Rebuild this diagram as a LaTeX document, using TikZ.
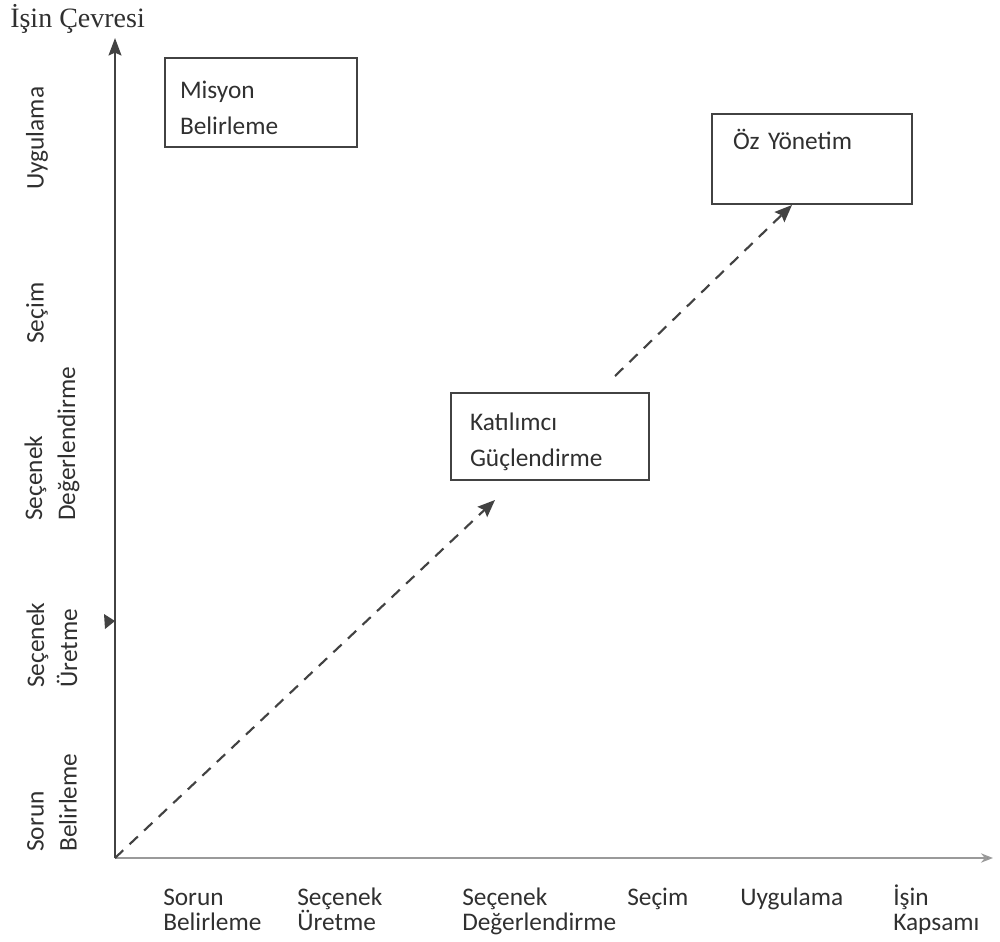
\documentclass[tikz,border=0pt]{standalone}
\usepackage{fontspec}
\setmainfont{Carlito}
\newfontfamily\titlefont{Liberation Serif}
\usetikzlibrary{arrows.meta}
\def\pxu{0.75pt}
\definecolor{ink}{HTML}{303030}
\definecolor{rulec}{HTML}{424242}
\definecolor{faint}{HTML}{9A9A9A}
\newcommand\lblfont{\fontsize{19}{18.75}\selectfont}
\newcommand\vlblfont{\fontsize{19}{24.75}\selectfont}
\newcommand\boxfont{\fontsize{19}{27}\selectfont}
% raises the first line of a box so that the text block sits a little lower
\newcommand\toprule{\rule{0pt}{21.5pt}}
\begin{document}
\begin{tikzpicture}[x=0.75pt,y=-0.75pt,
  box/.style={draw=rulec, line width=1.5pt, align=left, font=\boxfont,
    text=ink, inner ysep=0pt},
  axisline/.style={draw=rulec, line width=1.9pt,
    -{Stealth[length=13pt, width=9.5pt, inset=2pt]}},
  haxisline/.style={draw=faint, line width=1.3pt,
    -{Stealth[length=9pt, width=7pt, fill=rulec]}},
  dasharrow/.style={draw=rulec, line width=1.6pt, dash pattern=on 8.5pt off 6.5pt,
    -{Stealth[length=13pt, width=10.5pt, inset=2pt]}},
  hlabel/.style={anchor=base west, align=left, font=\lblfont, text=ink, inner sep=0pt},
  vlabel/.style={anchor=west, align=left, rotate=90, font=\vlblfont, text=ink, inner sep=0pt},
]
\useasboundingbox (0,0) rectangle (1000,942);

% title of the vertical axis
\node[anchor=base west, inner sep=0pt, font=\titlefont\fontsize{21}{24}\selectfont, text=ink]
  (ttl) at (10,28) {İşin Çevresi};

% axes
\coordinate (o) at (115,858);
\coordinate (ytop) at (115,38);
\coordinate (xend) at (993,858);
\draw[axisline] (o) -- (ytop);
\draw[haxisline] (o) -- (xend);

% small marker on the vertical axis
\fill[rulec] (115,621) -- (104,614) -- (105,629) -- cycle;

% boxes
\node[box, minimum width=192*\pxu, minimum height=89*\pxu, text width=162*\pxu,
  inner xsep=15*\pxu] (mis) at (261,102.5) {\toprule Misyon\\Belirleme};
\node[box, minimum width=200*\pxu, minimum height=90*\pxu, text width=158*\pxu,
  inner xsep=21*\pxu] (oz) at (812,159) {\toprule Öz Yönetim\\\strut};
\node[box, minimum width=198*\pxu, minimum height=87*\pxu, text width=160*\pxu,
  inner xsep=19*\pxu] (kat) at (550,436.5) {\toprule Katılımcı\\Güçlendirme};

% dashed progression arrows
\coordinate (d1e) at (495,500);
\coordinate (d2s) at (615,376);
\coordinate (d2e) at (792,205);
\draw[dasharrow] (o) -- (d1e);
\draw[dasharrow] (d2s) -- (d2e);

% labels of the horizontal axis
\node[hlabel] (h1) at (163,930) {Sorun\\Belirleme};
\node[hlabel] (h2) at (297,930) {Seçenek\\Üretme};
\node[hlabel] (h3) at (462,930) {Seçenek\\Değerlendirme};
\node[hlabel] (h4) at (627,905) {Seçim};
\node[hlabel] (h5) at (740,905) {Uygulama};
\node[hlabel] (h6) at (893,930) {İşin\\Kapsamı};

% labels of the vertical axis
\node[vlabel] (v1) at (52,852) {Sorun\\Belirleme};
\node[vlabel] (v2) at (52,688) {Seçenek\\Üretme};
\node[vlabel] (v3) at (52,521) {Seçenek\\Değerlendirme};
\node[vlabel] (v4) at (37,344) {Seçim};
\node[vlabel] (v5) at (37,190) {Uygulama};
\end{tikzpicture}
\end{document}
